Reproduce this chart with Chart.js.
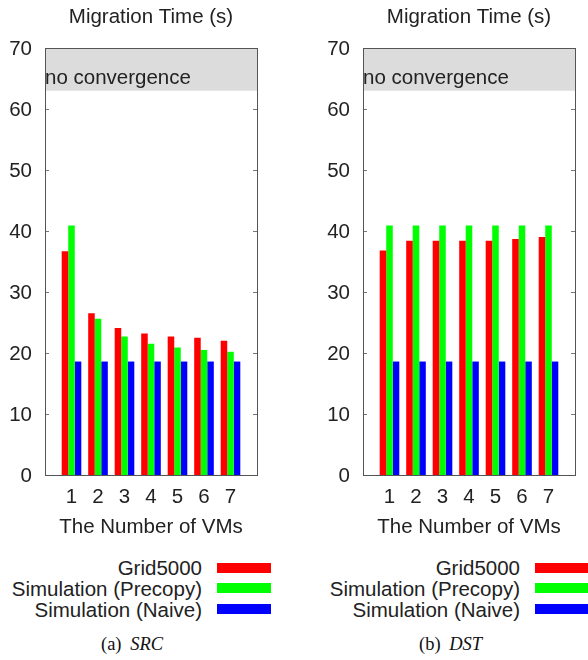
<!DOCTYPE html>
<html><head><meta charset="utf-8">
<script src="https://cdn.jsdelivr.net/npm/chart.js@4"></script>
<style>
html,body{margin:0;padding:0;background:#fff;width:588px;height:660px;overflow:hidden;position:relative;font-family:"Liberation Sans",Arial,sans-serif;}
canvas{position:absolute;top:0;}
.lg{position:absolute;font-size:20.5px;line-height:21px;color:#222;text-align:right;white-space:nowrap;}
.sw{position:absolute;height:10px;}
.cap{position:absolute;font-family:"Liberation Serif",serif;font-size:18.5px;line-height:20px;color:#111;white-space:nowrap;}
.cap i{margin-left:4px;}
</style></head><body>
<canvas id="src" width="290" height="545" style="left:0px"></canvas>
<canvas id="dst" width="270" height="545" style="left:318px"></canvas>
<div id="legends"></div>
<div class="cap" style="left:101px;top:634px">(a) <i>SRC</i></div>
<div class="cap" style="left:419px;top:634px">(b) <i>DST</i></div>
<script>
const categories = [1, 2, 3, 4, 5, 6, 7];
const seriesNames = ['Grid5000', 'Simulation (Precopy)', 'Simulation (Naive)'];
const seriesColors = ['#ff0000', '#00ff00', '#0000ff'];
const srcGrid5000 = [36.7, 26.5, 24.1, 23.2, 22.7, 22.5, 22.0];
const srcPrecopy  = [40.9, 25.6, 22.7, 21.5, 20.9, 20.5, 20.2];
const srcNaive    = [18.6, 18.6, 18.6, 18.6, 18.6, 18.6, 18.6];
const dstGrid5000 = [36.8, 38.4, 38.4, 38.4, 38.4, 38.7, 39.0];
const dstPrecopy  = [40.9, 40.9, 40.9, 40.9, 40.9, 40.9, 40.9];
const dstNaive    = [18.6, 18.6, 18.6, 18.6, 18.6, 18.6, 18.6];
const yMin = 0, yMax = 70, yStep = 10;
const bandFrom = 63;
const bandLabel = 'no convergence';
const chartTitle = 'Migration Time (s)';
const xTitle = 'The Number of VMs';

const FONT = '"Liberation Sans", Arial, sans-serif';
const TXT = '#222';

const framePlugin = {
  id: 'frame',
  beforeDatasetsDraw(chart) {
    const {ctx, chartArea: a, scales: {y}} = chart;
    const t = y.getPixelForValue(yMax), b = y.getPixelForValue(bandFrom);
    ctx.save();
    ctx.fillStyle = '#dcdcdc';
    ctx.fillRect(a.left, t, a.right - a.left, b - t);
    ctx.fillStyle = TXT;
    ctx.font = '20.5px ' + FONT;
    ctx.textAlign = 'left';
    ctx.textBaseline = 'alphabetic';
    ctx.fillText(bandLabel, a.left, b - 7);
    ctx.restore();
  },
  afterDraw(chart) {
    const {ctx, chartArea: a, scales: {y}} = chart;
    ctx.save();
    ctx.strokeStyle = '#777';
    ctx.lineWidth = 1;
    y.ticks.forEach(tk => {
      if (tk.value <= yMin || tk.value >= yMax) return;
      const py = Math.round(y.getPixelForValue(tk.value)) + 0.5;
      ctx.beginPath();
      ctx.moveTo(a.left, py); ctx.lineTo(a.left + 4, py);
      ctx.moveTo(a.right - 4, py); ctx.lineTo(a.right, py);
      ctx.stroke();
    });
    ctx.strokeStyle = '#555';
    ctx.strokeRect(a.left + 0.5, a.top + 0.5, a.right - a.left, a.bottom - a.top);
    ctx.restore();
  }
};

function makeChart(id, padRight, series) {
  new Chart(document.getElementById(id), {
    type: 'bar',
    data: {
      datasets: series.map((arr, i) => ({
        label: seriesNames[i],
        data: categories.map((c, j) => ({x: c, y: arr[j]})),
        backgroundColor: seriesColors[i],
        borderWidth: 0,
        categoryPercentage: 0.74,
        barPercentage: 1.0
      }))
    },
    options: {
      responsive: false,
      animation: false,
      devicePixelRatio: 1,
      layout: {padding: {left: 0, right: padRight, top: 0, bottom: 0}},
      plugins: {
        legend: {display: false},
        tooltip: {enabled: false},
        title: {display: true, text: chartTitle, fullSize: false, color: TXT,
          font: {family: FONT, size: 20.5, weight: 'normal'}, padding: {top: 5, bottom: 18.4}}
      },
      scales: {
        x: {
          type: 'linear', min: 0, max: 8, offset: false,
          grid: {display: false, drawTicks: false}, border: {display: false},
          ticks: {stepSize: 1, autoSkip: false, maxRotation: 0, padding: 10, color: TXT,
            font: {family: FONT, size: 20.5},
            callback: v => categories.includes(v) ? String(v) : ''},
          title: {display: true, text: xTitle, color: TXT, font: {family: FONT, size: 20.5},
            padding: {top: 0, bottom: 5}},
          afterFit: s => { s.height = 70; }
        },
        y: {
          min: yMin, max: yMax,
          grid: {display: false, drawTicks: false}, border: {display: false},
          ticks: {stepSize: yStep, padding: 13, labelOffset: 1, color: TXT, font: {family: FONT, size: 20.5}},
          afterFit: s => { s.width = 45; }
        }
      }
    },
    plugins: [framePlugin]
  });
}

makeChart('src', 33, [srcGrid5000, srcPrecopy, srcNaive]);
makeChart('dst', 13, [dstGrid5000, dstPrecopy, dstNaive]);

// legends
const legendPanels = [{textRight: 202, swLeft: 217, swWidth: 54}, {textRight: 520, swLeft: 535, swWidth: 54}];
const rowCenters = [567.7, 588, 609];
const lg = document.getElementById('legends');
legendPanels.forEach(p => {
  seriesNames.forEach((name, i) => {
    const t = document.createElement('div');
    t.className = 'lg';
    t.textContent = name;
    t.style.right = (588 - p.textRight) + 'px';
    t.style.top = (rowCenters[i] - 10.5) + 'px';
    lg.appendChild(t);
    const s = document.createElement('div');
    s.className = 'sw';
    s.style.left = p.swLeft + 'px';
    s.style.width = p.swWidth + 'px';
    s.style.top = (rowCenters[i] - 5) + 'px';
    s.style.background = seriesColors[i];
    lg.appendChild(s);
  });
});
</script>
</body></html>
